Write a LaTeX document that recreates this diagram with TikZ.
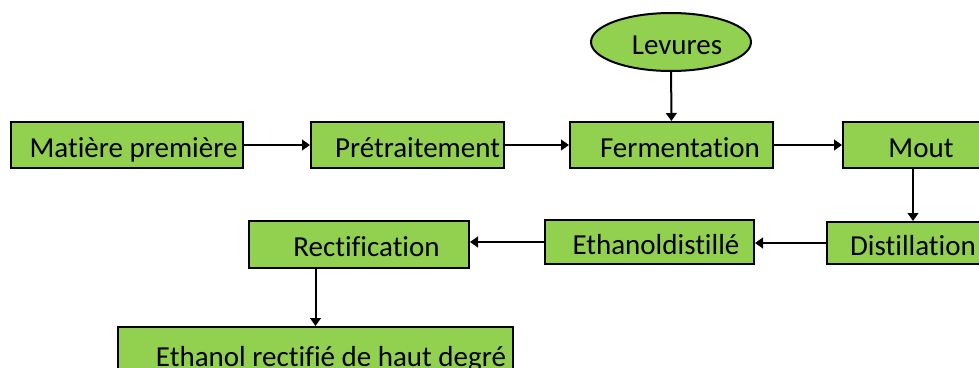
\documentclass[tikz,border=0pt]{standalone}
\usepackage{fontspec}
\setmainfont{Carlito}[RawFeature=-liga]
\usetikzlibrary{arrows.meta,shapes.geometric}
\definecolor{leaf}{HTML}{92D050}

\begin{document}
\begin{tikzpicture}[x=0.75pt,y=-0.75pt,
    font=\fontsize{21.75pt}{26pt}\selectfont,
    stage/.style={draw,line width=1.5pt,fill=leaf,inner sep=0pt,rectangle,text height=18pt,text depth=0pt},
    flow/.style={line width=1.5pt,-{Triangle[length=6pt,width=8pt]}}]
                \clip (0,0) rectangle (979,368);
                \node [stage,minimum width=174pt,minimum height=34.5pt] (mat) at (127,145) {\hspace{9.75pt}Matière première};
                \node [stage,minimum width=144.75pt,minimum height=34.5pt] (pre) at (407.5,145) {\hspace{15pt}Prétraitement};
                \node [stage,minimum width=152.25pt,minimum height=34.5pt] (fer) at (671.5,145) {\hspace{12.75pt}Fermentation};
                \node [stage,ellipse,minimum width=120pt,minimum height=43.5pt] (lev) at (671,42) {\hspace{9pt}Levures};
                \node [stage,minimum width=117pt,minimum height=34.5pt] (mout) at (921,145) {Mout};
                \node [stage,minimum width=129pt,minimum height=31.5pt] (dist) at (913,243) {Distillation};
                \node [stage,minimum width=156.75pt,minimum height=33pt] (edist) at (649.5,242) {\hspace{9.75pt}Ethanoldistillé};
                \node [stage,minimum width=165pt,minimum height=35.25pt] (rect) at (359,244.5) {\hspace{11.25pt}Rectification};
                \node [stage,minimum width=296.25pt,minimum height=40.5pt] (eth) at (315.5,354) {\hspace{23.25pt}Ethanol rectifié de haut degré};
                \draw [flow] (mat) -- (pre);
                \draw [flow] (pre) -- (fer);
                \draw [flow] (lev) -- (fer);
                \draw [flow] (fer) -- (mout);
                \draw [flow] (mout.south -| dist.north) -- (dist.north);
                \draw [flow] (dist.west) -- (dist.west -| edist.east);
                \draw [flow] (edist.west) -- (edist.west -| rect.east);
                \draw [flow] (rect.south -| eth.north) -- (eth.north);
            \end{tikzpicture}
\end{document}
